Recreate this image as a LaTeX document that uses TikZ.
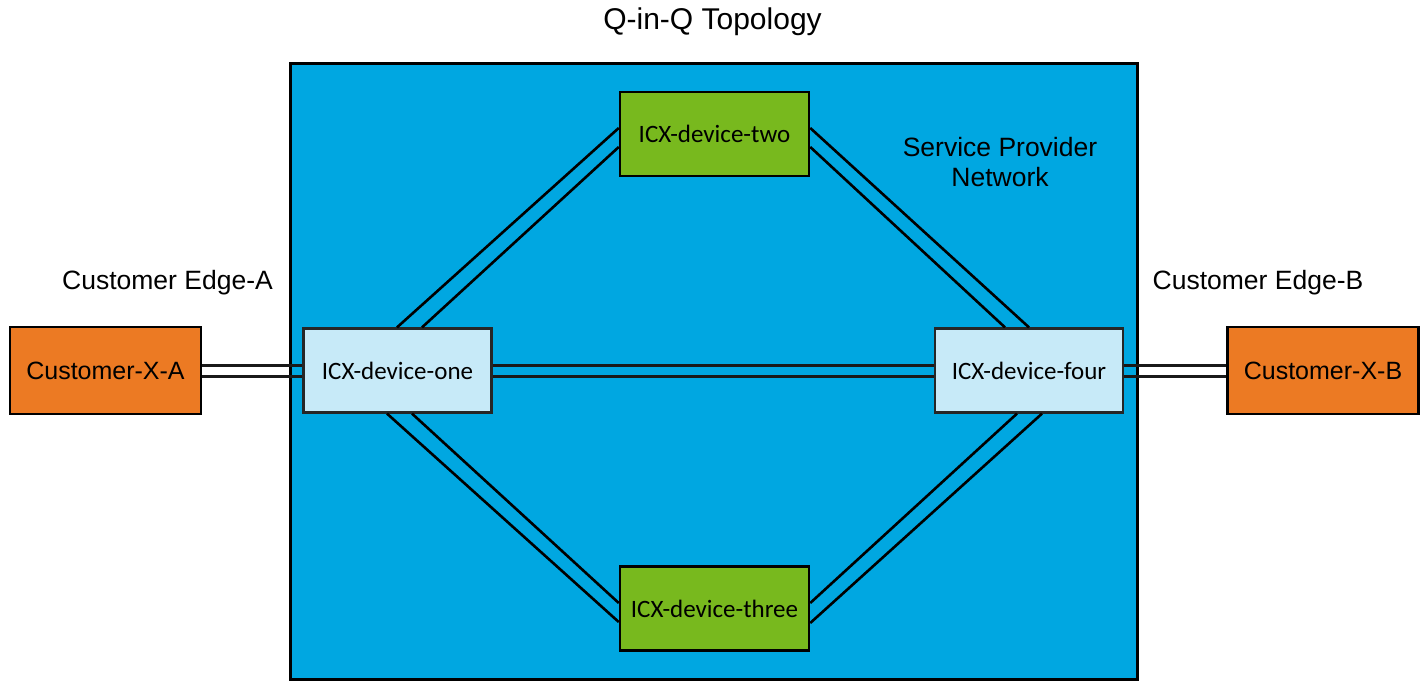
\documentclass[tikz,border=0pt]{standalone}
\usepackage{fontspec}
\setmainfont{Liberation Sans}
\newfontfamily\devfont{Carlito}
\definecolor{spblue}{RGB}{0,167,225}
\definecolor{devblue}{RGB}{199,234,248}
\definecolor{devgreen}{RGB}{120,185,30}
\definecolor{custorange}{RGB}{236,122,35}
\tikzset{
  custbox/.style={draw=black, line width=2.5pt, fill=custorange, minimum width=191pt, minimum height=87pt, inner sep=0pt, font=\fontsize{25}{30}\selectfont},
  corebox/.style={draw=black!85, line width=2.2pt, fill=devblue, minimum width=188pt, minimum height=84pt, inner sep=0pt, font=\devfont\fontsize{25}{30}\selectfont},
  midbox/.style={draw=black, line width=2.5pt, fill=devgreen, minimum width=189pt, minimum height=84pt, inner sep=0pt, font=\devfont\fontsize{25}{30}\selectfont},
  label/.style={font=\fontsize{26.5}{30}\selectfont, align=center, inner sep=0pt},
  link/.style={draw=black, line width=2.6pt},
  hlink/.style={draw=black!90, line width=3pt},
}
\begin{document}
\begin{tikzpicture}[x=1pt,y=-1pt]
\useasboundingbox (0,0) rectangle (1427,682);
% service provider network box
\node[draw=black, line width=3pt, fill=spblue, minimum width=847pt, minimum height=615pt, inner sep=0pt] (sp) at (713.5,371.5) {};
\node[font=\fontsize{30}{34}\selectfont, inner sep=0pt] (title) at (712.5,22) {Q-in-Q Topology};
\node[label] (splabel) at (1000,162) {Service Provider\\Network};
\node[label] (edgea) at (167.5,283) {Customer Edge-A};
\node[label] (edgeb) at (1258,283) {Customer Edge-B};
% nodes
\node[custbox] (cxa) at (105.5,370.5) {Customer-X-A};
\node[custbox] (cxb) at (1323,370.5) {Customer-X-B};
\node[corebox] (one) at (397.5,370.5) {ICX-device-one};
\node[corebox] (four) at (1029,370.5) {ICX-device-four};
\node[midbox] (two) at (714.5,134) {ICX-device-two};
\node[midbox] (three) at (714.5,608.5) {ICX-device-three};
% links
\path[hlink] ([yshift=5pt]cxa.east) -- ([yshift=5pt]one.west);
\path[hlink] ([yshift=-6pt]cxa.east) -- ([yshift=-6pt]one.west);
\path[hlink] ([yshift=5pt]one.east) -- ([yshift=5pt]four.west);
\path[hlink] ([yshift=-6pt]one.east) -- ([yshift=-6pt]four.west);
\path[hlink] ([yshift=5pt]four.east) -- ([yshift=5pt]cxb.west);
\path[hlink] ([yshift=-6pt]four.east) -- ([yshift=-6pt]cxb.west);
% diagonals
\path[link] ([xshift=-0.5pt]one.north) -- ([yshift=6pt]two.west);
\path[link] ([xshift=24.5pt]one.north) -- ([yshift=-13pt]two.west);
\path[link] ([yshift=6pt]two.east) -- ([xshift=0pt]four.north);
\path[link] ([yshift=-13pt]two.east) -- ([xshift=-24pt]four.north);
\path[link] ([xshift=-10.5pt]one.south) -- ([yshift=-13.5pt]three.west);
\path[link] ([xshift=14.5pt]one.south) -- ([yshift=5.5pt]three.west);
\path[link] ([yshift=-14.5pt]three.east) -- ([xshift=13pt]four.south);
\path[link] ([yshift=5.5pt]three.east) -- ([xshift=-12pt]four.south);
\end{tikzpicture}
\end{document}
